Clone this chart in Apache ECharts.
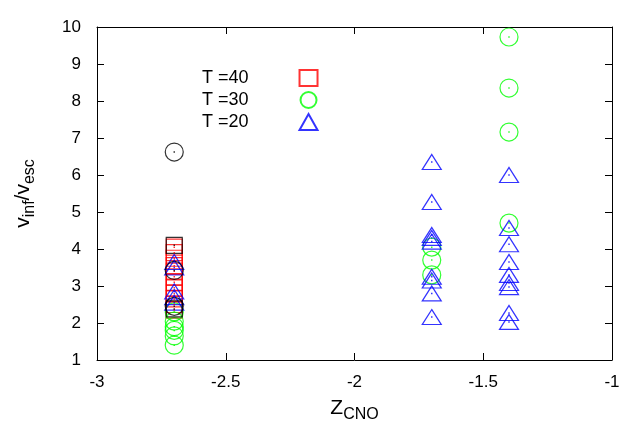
<!DOCTYPE html>
<html><head><meta charset="utf-8">
<script src="https://cdn.jsdelivr.net/npm/echarts@6/dist/echarts.min.js"></script>
<style>html,body{margin:0;padding:0;background:#fff}#c{width:626px;height:430px}</style>
</head><body><div id="c"></div>
<script>
// x positions (Z_CNO)
const zLow = -2.7, zMid = -1.7, zHigh = -1.4;
// T=40 (red squares)
const t40Low = [4.05, 3.9, 3.75, 3.55, 3.4, 3.25, 3.1, 2.95, 2.8, 2.65, 2.5, 2.35];
// T=30 (green circles)
const t30Low = [1.4, 1.65, 1.8, 1.9, 2.05, 2.3];
const t30Mid = [4.05, 3.7, 3.3];
const t30High = [9.73, 8.35, 7.16, 4.7];
// T=20 (blue triangles)
const t20Low = [3.65, 3.5, 2.85, 2.7, 2.55];
const t20Mid = [6.35, 5.27, 4.38, 4.3, 4.2, 3.25, 3.15, 2.8, 2.16];
const t20High = [6.0, 4.57, 4.13, 3.65, 3.3, 3.08, 2.97, 2.27, 2.03];
// black symbols (no legend entry)
const blackCircLow = [6.62, 3.42, 2.45];
const blackSqLow = [4.1, 2.38];
// ticks
const xTicks = [-3, -2.5, -2, -1.5, -1];
const yTicks = [1, 2, 3, 4, 5, 6, 7, 8, 9, 10];

const pts = (x, arr) => arr.map(v => [x, v]);
const red = '#ff0000', green = '#00ff00', blue = '#0000ff', black = '#000000';
const FONT = 'Liberation Sans';

function sym(name, data, symbol, size, color) {
  return {
    name: name, type: 'scatter', data: data, symbol: symbol, symbolSize: size,
    itemStyle: { color: 'rgba(0,0,0,0)', borderColor: color, borderWidth: 1.2 },
    emphasis: { disabled: true }, silent: true, z: 2
  };
}
function dots(data, color) {
  return { type: 'scatter', data: data, symbol: 'rect', symbolSize: 1.5,
    itemStyle: { color: color }, silent: true, z: 3 };
}
const d40 = pts(zLow, t40Low);
const d30 = pts(zLow, t30Low).concat(pts(zMid, t30Mid), pts(zHigh, t30High));
const d20 = pts(zLow, t20Low).concat(pts(zMid, t20Mid), pts(zHigh, t20High));
const dBc = pts(zLow, blackCircLow);
const dBs = pts(zLow, blackSqLow);

const chart = echarts.init(document.getElementById('c'), null, { renderer: 'canvas' });
const axisCommon = {
  axisLine: { show: true, onZero: false, lineStyle: { color: '#000', width: 1 } },
  axisTick: { show: true, inside: true, length: 7, lineStyle: { color: '#000' } },
  splitLine: { show: false }
};
const richName = {
  a: { fontFamily: FONT, fontSize: 21, color: '#000', lineHeight: 21, verticalAlign: 'top' },
  s: { fontFamily: FONT, fontSize: 16, color: '#000', lineHeight: 16, padding: [9, 0, 0, 0], verticalAlign: 'top' }
};
chart.setOption({
  animation: false,
  backgroundColor: '#fff',
  grid: { left: 97, right: 14, top: 27, bottom: 70 },
  xAxis: [
    Object.assign({ type: 'value', min: -3, max: -1, interval: 0.5, position: 'bottom',
      axisLabel: { color: '#000', fontFamily: FONT, fontSize: 17, margin: 14 },
      name: '{a|Z}{s|CNO}', nameLocation: 'middle', nameGap: 38,
      nameTextStyle: { rich: richName }
    }, axisCommon),
    Object.assign({ type: 'value', min: -3, max: -1, interval: 0.5, position: 'top',
      axisLabel: { show: false } }, axisCommon)
  ],
  yAxis: [
    Object.assign({ type: 'value', min: 1, max: 10, interval: 1, position: 'left',
      axisLabel: { color: '#000', fontFamily: FONT, fontSize: 17, margin: 16 },
      name: '{a|v}{s|inf}{a|/v}{s|esc}', nameLocation: 'middle', nameGap: 63, nameRotate: 90,
      nameTextStyle: { rich: richName }
    }, axisCommon),
    Object.assign({ type: 'value', min: 1, max: 10, interval: 1, position: 'right',
      axisLabel: { show: false } }, axisCommon)
  ],
  legend: {
    data: ['T =40', 'T =30', 'T =20'],
    orient: 'vertical', left: 197, top: 64, align: 'right',
    itemWidth: 18, itemHeight: 16, itemGap: 4,
    selectedMode: false,
    textStyle: { fontFamily: FONT, fontSize: 18, color: '#000', padding: [0, 46, 0, 0] }
  },
  series: [
    sym('T =40', d40, 'rect', 16, red),
    dots(d40, red),
    sym('T =30', d30, 'circle', 18, green),
    dots(d30, green),
    sym('T =20', d20, 'triangle', [19, 15], blue),
    dots(d20, blue),
    sym('blackC', dBc, 'circle', 18, black),
    dots(dBc, black),
    sym('blackS', dBs, 'rect', 16, black),
    dots(dBs, black)
  ]
});
</script></body></html>
